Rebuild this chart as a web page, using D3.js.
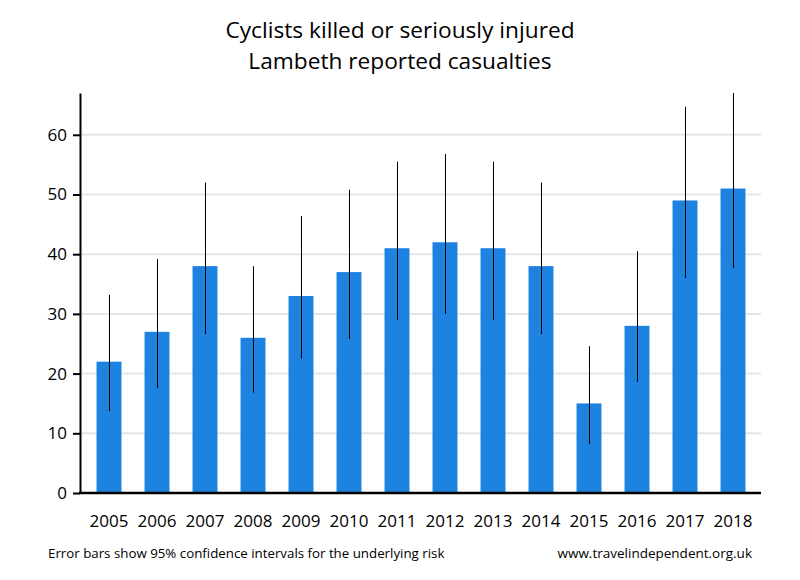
<!DOCTYPE html>
<html><head><meta charset="utf-8">
<script src="https://cdn.jsdelivr.net/npm/d3@7/dist/d3.min.js"></script>
<style>body{margin:0;background:#fff}</style>
</head><body>
<svg id="c" width="800" height="580"></svg>
<script>
const years = ["2005","2006","2007","2008","2009","2010","2011","2012","2013","2014","2015","2016","2017","2018"];
const values = [22,27,38,26,33,37,41,42,41,38,15,28,49,51];
const lower = [13.7,17.6,26.6,16.8,22.5,25.8,29,30,29,26.6,8.2,18.6,36,37.7];
const upper = [33.2,39.2,52,38,46.4,50.8,55.5,56.8,55.5,52,24.6,40.5,64.7,67.2];
const yTicks = [0,10,20,30,40,50,60];
const titleLines = ["Cyclists killed or seriously injured","Lambeth reported casualties"];
const footLeft = "Error bars show 95% confidence intervals for the underlying risk";
const footRight = "www.travelindependent.org.uk";

const svg = d3.select("#c");
const font = "'Open Sans', 'Noto Sans', sans-serif";
const L = 80, R = 761, T = 93, B = 493;
const y = d3.scaleLinear().domain([0,67]).range([B,T]);
const x = d3.scaleBand().domain(years).range([85,757]).paddingInner(0.48).paddingOuter(0.24);

// gridlines
svg.append("g").selectAll("line").data(yTicks.filter(d=>d>0)).join("line")
  .attr("x1",L).attr("x2",R).attr("y1",d=>y(d)).attr("y2",d=>y(d))
  .attr("stroke","#e6e6e6").attr("stroke-width",2);

// bars
svg.append("g").selectAll("rect").data(years).join("rect")
  .attr("x",d=>x(d)).attr("width",x.bandwidth())
  .attr("y",(d,i)=>y(values[i])).attr("height",(d,i)=>B-y(values[i]))
  .attr("fill","#1e82e1");

// error bars
svg.append("g").selectAll("line").data(years).join("line")
  .attr("x1",d=>Math.round(x(d)+x.bandwidth()/2)+0.5).attr("x2",d=>Math.round(x(d)+x.bandwidth()/2)+0.5)
  .attr("y1",(d,i)=>y(lower[i])).attr("y2",(d,i)=>y(Math.min(upper[i],67)))
  .attr("stroke","#000").attr("stroke-width",1);

// y axis
const ya = svg.append("g").attr("transform",`translate(${L},0)`)
  .call(d3.axisLeft(y).tickValues(yTicks).tickSize(7).tickPadding(6).tickSizeOuter(0));
ya.select(".domain").attr("stroke","#000").attr("stroke-width",2);
ya.selectAll(".tick line").attr("stroke","#000").attr("stroke-width",2);
ya.selectAll("text").attr("font-family",font).attr("font-size",17).attr("fill","#000");

// x axis
const xa = svg.append("g").attr("transform",`translate(0,${B})`)
  .call(d3.axisBottom(x).tickSize(0).tickPadding(22).tickSizeOuter(0));
xa.select(".domain").attr("d",`M${L-1},0H${R}`).attr("stroke","#000").attr("stroke-width",2.5);
xa.selectAll("text").attr("font-family",font).attr("font-size",17).attr("fill","#000");

// title
svg.append("g").selectAll("text").data(titleLines).join("text")
  .attr("x",400).attr("y",(d,i)=>38+i*31).attr("text-anchor","middle")
  .attr("font-family",font).attr("font-size",22.7).attr("fill","#000").text(d=>d);

svg.append("text").attr("x",48).attr("y",558).attr("font-family",font).attr("font-size",13.3).text(footLeft);
svg.append("text").attr("x",752).attr("y",558).attr("text-anchor","end").attr("font-family",font).attr("font-size",13.5).text(footRight);
</script>
</body></html>
